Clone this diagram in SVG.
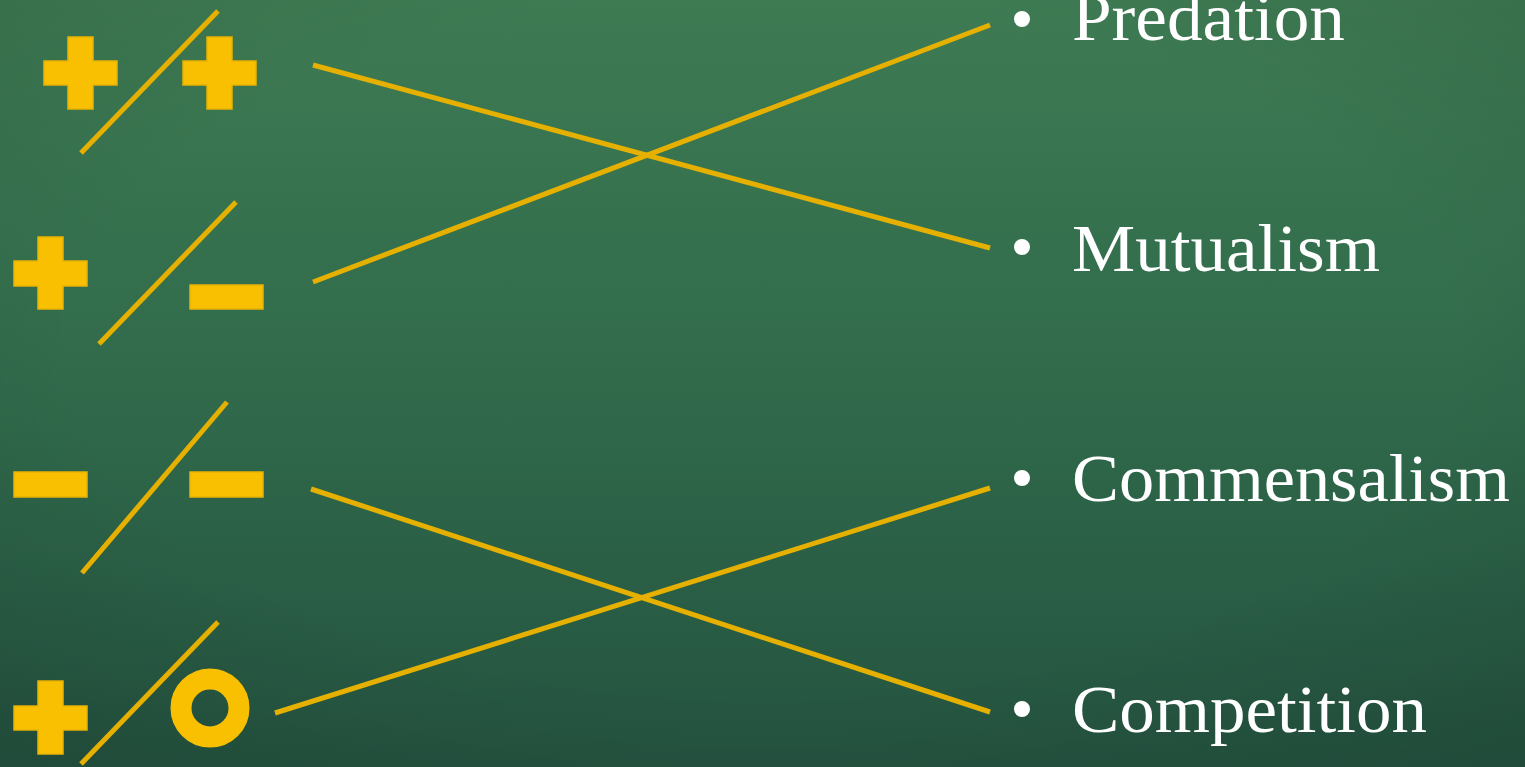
<svg xmlns="http://www.w3.org/2000/svg" width="1525" height="767" viewBox="0 0 1525 767">
<defs>
<linearGradient id="bg" x1="0" y1="0" x2="0" y2="1">
<stop offset="0" stop-color="#3e7b53"/>
<stop offset="0.5" stop-color="#306a4b"/>
<stop offset="1" stop-color="#245340"/>
</linearGradient>
<radialGradient id="vig" cx="0.5" cy="0.45" r="0.75">
<stop offset="0.6" stop-color="#000" stop-opacity="0"/>
<stop offset="1" stop-color="#000" stop-opacity="0.12"/>
</radialGradient>
</defs>
<style>
.sym{fill:#f8c000;stroke:#e9b300;stroke-width:1.5}
.ring{fill:none;stroke:#f8c000;stroke-width:21}
.slash{stroke:#e6b000;stroke-width:5;stroke-linecap:butt}
.conn{stroke:#e6b000;stroke-width:5;fill:none}
.lbl{font-family:"Liberation Serif","Times New Roman",serif;font-size:68px;fill:#ffffff}
.dot{fill:#ffffff}
</style>
<rect width="1525" height="767" fill="url(#bg)"/>
<rect width="1525" height="767" fill="url(#vig)"/>

<g id="node-plus-plus">
<path class="sym" d="M68 37h25v24h24v24h-24v24h-25v-24h-24v-24h24z"/>
<line class="slash" x1="218" y1="11" x2="81" y2="153"/>
<path class="sym" d="M207 37h25v24h24v24h-24v24h-25v-24h-24v-24h24z"/>
</g>

<g id="node-plus-minus">
<path class="sym" d="M38 237h25v24h24v25h-24v23h-25v-23h-24v-25h24z"/>
<line class="slash" x1="236" y1="202" x2="99" y2="344"/>
<rect class="sym" x="190" y="285" width="73" height="24"/>
</g>

<g id="node-minus-minus">
<rect class="sym" x="14" y="472" width="73" height="25"/>
<line class="slash" x1="227" y1="402" x2="82" y2="573"/>
<rect class="sym" x="190" y="472" width="73" height="25"/>
</g>

<g id="node-plus-zero">
<path class="sym" d="M38 681h25v25h24v24h-24v24h-25v-24h-24v-24h24z"/>
<line class="slash" x1="218" y1="622" x2="81" y2="764"/>
<circle class="ring" cx="210" cy="708" r="29"/>
</g>

<g id="label-predation">
<circle class="dot" cx="1022" cy="19" r="8"/>
<text class="lbl" x="1072" y="40" textLength="273" lengthAdjust="spacingAndGlyphs">Predation</text>
</g>
<g id="label-mutualism">
<circle class="dot" cx="1022" cy="247" r="8"/>
<text class="lbl" x="1072" y="271" textLength="308" lengthAdjust="spacingAndGlyphs">Mutualism</text>
</g>
<g id="label-commensalism">
<circle class="dot" cx="1022" cy="478" r="8"/>
<text class="lbl" x="1072" y="501" textLength="438" lengthAdjust="spacingAndGlyphs">Commensalism</text>
</g>
<g id="label-competition">
<circle class="dot" cx="1022" cy="709" r="8"/>
<text class="lbl" x="1072" y="732" textLength="355" lengthAdjust="spacingAndGlyphs">Competition</text>
</g>

<g id="connectors">
<line class="conn" x1="313" y1="65" x2="990" y2="248"/>
<line class="conn" x1="313" y1="282" x2="990" y2="25"/>
<line class="conn" x1="311" y1="489" x2="990" y2="712"/>
<line class="conn" x1="275" y1="713" x2="990" y2="488"/>
</g>
</svg>
